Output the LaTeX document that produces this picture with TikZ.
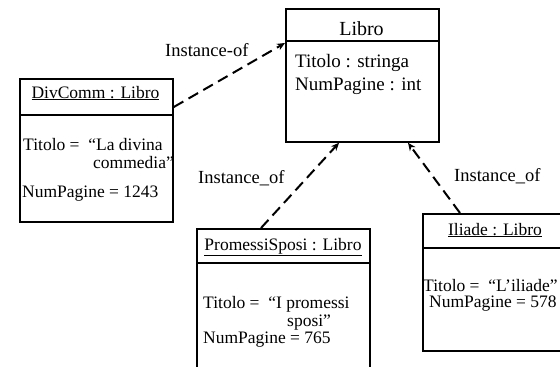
\documentclass[tikz,border=0pt]{standalone}
\usepackage{fontspec}
\setmainfont{Liberation Serif}
\usetikzlibrary{arrows.meta,calc}
\tikzset{
  umlbox/.style={draw, line width=1.8pt, inner sep=0pt, anchor=north west},
  sepline/.style={line width=1.8pt},
  objtxt/.style={anchor=base west, inner sep=0pt, font=\fontsize{17.5}{20}\selectfont},
  objtitle/.style={anchor=base, inner sep=0pt, font=\fontsize{17.5}{20}\selectfont},
  clstxt/.style={anchor=base west, inner sep=0pt, font=\fontsize{19}{22}\selectfont},
  clstitle/.style={anchor=base, inner sep=0pt, font=\fontsize{20}{24}\selectfont},
  lbl/.style={anchor=base west, inner sep=0pt, font=\fontsize{18.5}{22}\selectfont},
  instof/.style={line width=2pt, dash pattern=on 11pt off 6pt, -{Stealth[length=8pt,width=7pt]}}
}
\begin{document}
\begin{tikzpicture}[x=1pt,y=-1pt]
\useasboundingbox (0,0) rectangle (560,367);
\clip (0,0) rectangle (560,367);
% class box
\node[umlbox, minimum width=153pt, minimum height=133pt] (libro) at (285,8) {};
\draw[sepline] (285,41) -- (438,41);
\node[clstitle] (libroT) at (361.5,35) {Libro};
\node[clstxt] (libroA1) at (295,67) {Titolo : stringa};
\node[clstxt] (libroA2) at (295,90) {NumPagine : int};
% DivComm
\node[umlbox, minimum width=153pt, minimum height=143pt] (divcomm) at (19,78) {};
\draw[sepline] (19,115) -- (172,115);
\node[objtitle] (divT) at (95.5,98) {\underline{DivComm : Libro}};
\node[objtxt] (divA1) at (23,150) {Titolo = \ “La divina};
\node[objtxt] (divA1b) at (93,168) {commedia”};
\node[objtxt] (divA2) at (22,197) {NumPagine = 1243};
% PromessiSposi
\node[umlbox, minimum width=173pt, minimum height=160pt] (promessi) at (196,228) {};
\draw[sepline] (196,263) -- (369,263);
\node[objtitle] (proT) at (283,250) {\underline{PromessiSposi : Libro}};
\node[objtxt] (proA1) at (203,308) {Titolo = \ “I promessi};
\node[objtxt] (proA1b) at (287,326) {sposi”};
\node[objtxt] (proA2) at (203,343) {NumPagine = 765};
% Iliade
\node[umlbox, minimum width=158pt, minimum height=137pt] (iliade) at (422,213) {};
\draw[sepline] (422,248) -- (580,248);
\node[objtitle] (ilT) at (495,235) {\underline{Iliade : Libro}};
\node[objtxt] (ilA1) at (423,291) {Titolo = \ “L’iliade”};
\node[objtxt] (ilA2) at (429,307) {NumPagine = 578};
% connectors
\coordinate (s1) at ($(divcomm.north east)+(0,29)$);
\coordinate (e1) at ($(libro.north west)+(0,35)$);
\coordinate (s2) at ($(promessi.north west)+(65,0)$);
\coordinate (e2) at ($(libro.south west)+(54,0)$);
\coordinate (s3) at ($(iliade.north west)+(38,0)$);
\coordinate (e3) at ($(libro.south west)+(123,0)$);
\draw[instof] (s1) -- (e1);
\draw[instof] (s2) -- (e2);
\draw[instof] (s3) -- (e3);
% labels
\node[lbl] (l1) at (165,56) {Instance-of};
\node[lbl] (l2) at (198,183) {Instance\_of};
\node[lbl] (l3) at (454,181) {Instance\_of};
\end{tikzpicture}
\end{document}
